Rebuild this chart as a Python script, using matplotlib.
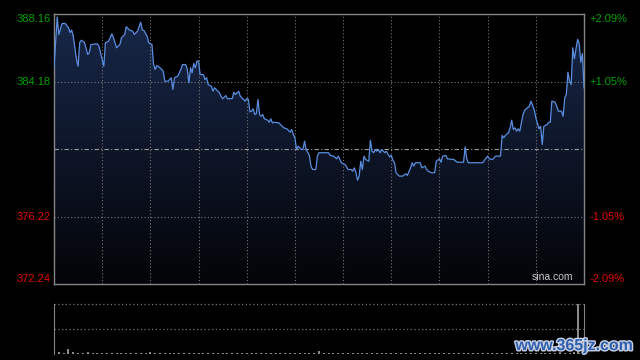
import matplotlib
matplotlib.use("Agg")
import matplotlib.pyplot as plt
import matplotlib.patheffects as pe
from matplotlib.colors import LinearSegmentedColormap
from matplotlib.patches import Polygon
import numpy as np

# intraday price (HK session, minutes from the open)
prev_close = 380.20
y_lo, y_hi = 372.24, 388.16
price_labels = ["388.16", "384.18", "376.22", "372.24"]
pct_labels = ["+2.09%", "+1.05%", "-1.05%", "-2.09%"]
label_values = [388.16, 384.18, 376.22, 372.24]

minutes = [
    0, 2, 3, 5, 7, 9, 10, 11, 12, 14, 15, 16, 17, 19, 21, 22, 23, 27, 28, 31,
    32, 34, 36, 37, 39, 41, 42, 44, 45, 47, 49, 50, 52, 54, 55, 56, 58, 59, 61, 62,
    63, 64, 66, 68, 69, 71, 73, 74, 75, 77, 79, 80, 82, 83, 84, 85, 86, 87, 88, 89,
    90, 91, 93, 94, 95, 96, 98, 99, 100, 101, 103, 104, 105, 107, 108, 111, 112, 113, 115, 116,
    118, 119, 120, 121, 122, 123, 124, 125, 126, 127, 128, 129, 130, 131, 133, 134, 135, 136, 137, 140,
    143, 145, 147, 148, 149, 150, 151, 152, 153, 154, 155, 156, 157, 159, 160, 161, 163, 164, 165, 166,
    171, 172, 174, 176, 177, 179, 181, 182, 183, 185, 186, 187, 188, 189, 190, 191, 192, 193, 194, 196,
    197, 198, 199, 200, 201, 202, 203, 204, 206, 207, 208, 209, 210, 211, 212, 213, 215, 217, 219, 220,
    222, 223, 224, 225, 228, 229, 231, 232, 233, 235, 237, 238, 240, 241, 242, 244, 245, 249, 251, 255,
    256, 257, 258, 267, 268, 270, 271, 273, 275, 278, 279, 280, 281, 283, 284, 285, 286, 287, 288, 289,
    290, 292, 293, 294, 296, 297, 299, 300, 302, 303, 304, 305, 307, 308, 309, 310, 312, 313, 314, 316,
    317, 318, 319, 320, 321, 322, 323, 324, 326, 327, 328, 329, 330,
]
prices = [
    385.01, 387.99, 386.95, 387.60, 387.60, 387.35, 387.07, 387.21, 386.85, 385.48,
    385.08, 386.48, 386.61, 386.48, 385.77, 385.89, 386.36, 386.40, 386.26, 385.08,
    386.46, 386.56, 386.99, 386.76, 386.17, 386.36, 386.76, 386.95, 387.41, 387.21,
    387.15, 386.95, 387.15, 387.68, 387.21, 387.19, 386.85, 386.46, 386.36, 385.18,
    384.89, 385.12, 384.99, 384.79, 384.20, 384.20, 384.40, 383.71, 384.40, 384.49,
    384.89, 385.18, 385.18, 384.89, 384.10, 384.99, 384.69, 385.24, 384.99, 385.38,
    385.38, 384.59, 384.59, 384.30, 384.40, 384.00, 383.90, 383.61, 383.81, 383.71,
    383.51, 383.31, 383.16, 383.35, 383.16, 383.18, 383.55, 383.41, 383.61, 383.31,
    383.12, 383.02, 383.18, 383.12, 382.39, 382.43, 382.57, 382.23, 382.29, 383.12,
    382.23, 382.13, 382.23, 381.98, 381.90, 381.78, 381.98, 381.74, 381.78, 381.74,
    381.45, 381.39, 381.19, 381.35, 381.06, 380.86, 380.17, 380.37, 380.27, 380.17,
    380.17, 380.66, 380.17, 379.82, 379.19, 378.99, 378.99, 379.78, 379.98, 379.98,
    379.98, 379.82, 379.78, 379.62, 379.78, 379.39, 379.29, 379.19, 378.99, 378.99,
    378.89, 379.09, 378.80, 378.36, 378.60, 379.48, 378.99, 379.78, 379.58, 379.48,
    380.72, 380.07, 379.98, 380.17, 380.07, 380.17, 379.98, 380.17, 379.98, 380.07,
    379.88, 379.74, 379.82, 379.54, 379.39, 378.80, 378.60, 378.60, 378.74, 378.64,
    379.09, 379.39, 379.19, 379.39, 379.39, 379.09, 379.19, 378.99, 378.89, 378.80,
    378.80, 379.48, 379.62, 379.42, 379.78, 379.82, 379.62, 379.58, 379.42, 379.42,
    380.33, 379.62, 379.39, 379.39, 379.54, 379.78, 379.62, 379.58, 379.78, 379.78,
    381.00, 380.86, 381.00, 381.16, 381.45, 381.90, 381.35, 381.45, 381.25, 381.39,
    381.25, 382.23, 382.47, 382.57, 382.72, 383.02, 382.53, 382.04, 381.39, 381.54,
    380.47, 381.54, 381.64, 381.78, 381.78, 383.02, 382.96, 382.72, 382.43, 382.43,
    382.13, 383.22, 383.41, 384.73, 384.20, 384.00, 386.17, 385.52, 386.66, 386.42,
    385.32, 385.83, 383.81,
]

# volume, sampled every 3 minutes, plus the closing auction bar
vol_minutes = list(range(0, 331, 3))
volumes = [
    6, 4, 3, 10, 4, 3, 3, 4, 3, 2,
    3, 2, 3, 3, 2, 2, 3, 2, 3, 2,
    4, 3, 2, 3, 2, 2, 2, 3, 2, 2,
    2, 2, 3, 2, 2, 2, 2, 2, 3, 2,
    2, 3, 2, 2, 2, 2, 2, 3, 2, 2,
    3, 2, 2, 2, 3, 6, 2, 2, 2, 2,
    2, 2, 2, 3, 2, 2, 3, 2, 2, 2,
    2, 2, 2, 2, 3, 2, 2, 2, 2, 2,
    2, 2, 2, 2, 2, 2, 2, 2, 2, 2,
    2, 3, 2, 3, 3, 2, 3, 2, 3, 2,
    3, 2, 3, 3, 3, 4, 3, 3, 4, 3, 4,
]
auction_minute = 326
auction_volume = 100

fig = plt.figure(figsize=(6.4, 3.6), dpi=100, facecolor="black")
ax = fig.add_axes([54 / 640, 1 - 284 / 360, 530 / 640, 270 / 360], facecolor="black")
axv = fig.add_axes([54 / 640, 1 - 354 / 360, 530 / 640, 50 / 360], facecolor="black")

grid_c = "#777777"
dot = (0, (1, 2))

# gradient area under the line
cmap = LinearSegmentedColormap.from_list("area", ["#030407", "#18284a"])
grad = np.linspace(1, 0, 256).reshape(-1, 1)
img = ax.imshow(grad, cmap=cmap, aspect="auto", origin="upper",
                extent=[0, 330, y_lo, y_hi], zorder=1)
verts = [(minutes[0], y_lo)] + list(zip(minutes, prices)) + [(minutes[-1], y_lo)]
area = Polygon(verts, closed=True, facecolor="none", edgecolor="none")
ax.add_patch(area)
img.set_clip_path(area)

for m in range(30, 330, 30):
    ax.axvline(m, color=grid_c, ls=dot, lw=0.8, zorder=2)
for v in [384.18, 376.22]:
    ax.axhline(v, color=grid_c, ls=dot, lw=0.8, zorder=2)
ax.axhline(prev_close, color="#9a9a9a", ls=(0, (4, 2, 1, 2)), lw=0.8, zorder=2)

ax.plot(minutes, prices, color="#5a8ee0", lw=0.9, zorder=3)

ax.set_xlim(0, 330)
ax.set_ylim(y_lo, y_hi)
ax.set_xticks([])
ax.set_yticks([])
for s in ax.spines.values():
    s.set_color("#858585")
    s.set_linewidth(1)

tr = ax.get_yaxis_transform()
for i, v in enumerate(label_values):
    col = "#00a000" if v > prev_close else "#e00000"
    va = "top" if i == 0 else ("bottom" if i == 3 else "center")
    ax.text(-0.006, v, price_labels[i], transform=tr, ha="right", va=va,
            color=col, fontsize=8, family="Liberation Sans")
    ax.text(1.011, v, pct_labels[i], transform=tr, ha="left", va=va,
            color=col, fontsize=8, family="Liberation Sans")

ax.text(0.979, 0.008, "sina.com", transform=ax.transAxes, ha="right", va="bottom",
        color="#c8c8c8", fontsize=7.5, family="Liberation Sans")

# volume panel
axv.bar(vol_minutes, volumes, width=1.2, color="#8a8a8a", zorder=2)
axv.bar([auction_minute], [auction_volume], width=1.2, color="#8a8a8a", zorder=2)
axv.set_xlim(0, 330)
axv.set_ylim(0, 100)
axv.set_xticks([])
axv.set_yticks([])
for side in ["top", "bottom"]:
    axv.spines[side].set_visible(False)
for side in ["left", "right"]:
    axv.spines[side].set_color("#858585")
axv.axhline(100, color=grid_c, ls=dot, lw=0.9, clip_on=False)
axv.axhline(50, color=grid_c, ls=dot, lw=0.9)

fig.text(0.8977, 0.040, "www.365jz.com", ha="center", va="center", color="#2f5fae",
         fontsize=11.5, fontweight="bold", family="Liberation Sans",
         path_effects=[pe.withStroke(linewidth=2, foreground="#c9d2e4")])

fig.savefig("out.png", dpi=100, facecolor="black")
